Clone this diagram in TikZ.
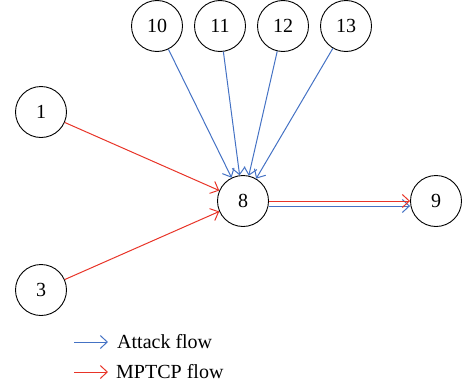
\documentclass[tikz,border=0pt]{standalone}
\usepackage{fontspec}
\setmainfont{Liberation Serif}
\usetikzlibrary{arrows.meta}

\definecolor{attackblue}{RGB}{68,114,196}
\definecolor{mptcpred}{RGB}{232,52,40}

\begin{document}
\begin{tikzpicture}[x=1pt,y=-1pt,
    host/.style={circle,draw,line width=0.9pt,minimum size=51pt,inner sep=0pt,
      font=\fontsize{20}{22}\selectfont},
    legtext/.style={anchor=west,inner sep=0pt,font=\fontsize{20}{22}\selectfont},
    attack/.style={attackblue,line width=1pt,-{Straight Barb[length=7pt,width=13pt]}},
    mptcp/.style={mptcpred,line width=1pt,-{Straight Barb[length=7pt,width=13pt]}}]
      \useasboundingbox (0,0) rectangle (462,388);
      % hosts
      \node[host] (n1) at (41,112) {1};
      \node[host] (n3) at (41,290) {3};
      \node[host] (n8) at (243,201) {8};
      \node[host] (n9) at (436,201) {9};
      \node[host] (n10) at (157,26) {10};
      \node[host] (n11) at (220,26) {11};
      \node[host] (n12) at (283,26) {12};
      \node[host] (n13) at (346,26) {13};
      % flows
      \foreach \s in {n10,n11,n12,n13}
        \draw[attack] (\s) -- (n8);
      \draw[mptcp] (n1) -- (n8);
      \draw[mptcp] (n3) -- (n8);
      \draw[attack] ([yshift=-5pt]n8.east) -- ([yshift=-5pt]n9.west);
      \draw[mptcp] ([yshift=0pt]n8.east) -- ([yshift=0pt]n9.west);
      % legend
      \coordinate (la) at (74,342);
      \coordinate (lm) at (74,372);
      \node[legtext] (latt) at (117,342) {Attack flow};
      \node[legtext] (lmp) at (116,372) {MPTCP flow};
      \draw[attack] (la) -- ([xshift=-9pt]latt.west);
      \draw[mptcp] (lm) -- ([xshift=-8pt]lmp.west);
    \end{tikzpicture}
\end{document}
